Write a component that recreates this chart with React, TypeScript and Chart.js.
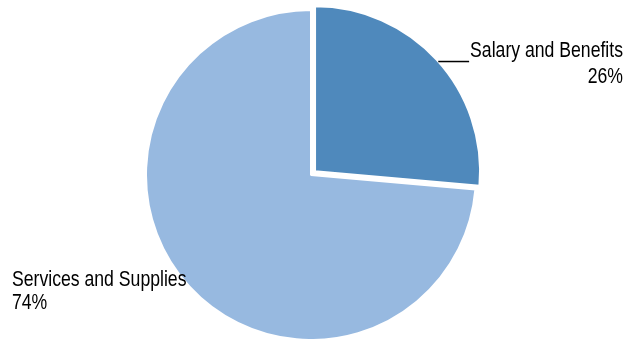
import React, { useEffect, useRef } from "react";
import { Chart, registerables } from "chart.js";

Chart.register(...registerables);

const categories = ["Salary and Benefits", "Services and Supplies"];
const values = [26.4, 73.6];
const colors = ["#4F89BC", "#97B9E0"];

const FONT = '21.5px "Liberation Sans", Arial, sans-serif';
const SQUEEZE = 0.82;

const labelPlugin = {
  id: "sliceLabels",
  afterDraw(chart: any) {
    const ctx = chart.ctx as CanvasRenderingContext2D;
    const meta = chart.getDatasetMeta(0);
    const total = values.reduce((a, b) => a + b, 0);
    const pct = values.map((v) => Math.round((v / total) * 100) + "%");
    const a0 = meta.data[0] as any;
    const a1 = meta.data[1] as any;
    const r = a0.outerRadius;
    const off0 = (a0.options.offset || 0) / 4;
    const mid0 = (a0.startAngle + a0.endAngle) / 2;
    const c0x = a0.x + Math.cos(mid0) * off0;
    const c0y = a0.y + Math.sin(mid0) * off0;

    ctx.save();
    ctx.font = FONT;
    ctx.fillStyle = "#000";
    ctx.textBaseline = "alphabetic";

    // Right label (Salary and Benefits)
    const rightX = chart.width - 11;
    const base1 = a0.y - r * 0.715;
    const w1 = ctx.measureText(categories[0]).width * SQUEEZE;
    ctx.save();
    ctx.scale(SQUEEZE, 1);
    ctx.textAlign = "right";
    ctx.fillText(categories[0], rightX / SQUEEZE, base1);
    ctx.fillText(pct[0], rightX / SQUEEZE, base1 + 25.5);
    ctx.restore();
    // leader line
    const ly = base1 + 4.5;
    const dy = ly - c0y;
    const ex = c0x + Math.sqrt(Math.max(r * r - dy * dy, 0));
    ctx.strokeStyle = "#000";
    ctx.lineWidth = 1.5;
    ctx.beginPath();
    ctx.moveTo(ex, ly);
    ctx.lineTo(rightX - w1 - 1, ly);
    ctx.stroke();

    // Left label (Services and Supplies)
    const leftX = chart.chartArea.left + 12;
    const base2 = a1.y + r * 0.67;
    const w2 = ctx.measureText(categories[1]).width * SQUEEZE;
    ctx.save();
    ctx.scale(SQUEEZE, 1);
    ctx.textAlign = "left";
    ctx.fillText(categories[1], leftX / SQUEEZE, base2);
    ctx.fillText(pct[1], leftX / SQUEEZE, base2 + 23);
    ctx.restore();
    const ly2 = base2 - 2;
    const dy2 = ly2 - a1.y;
    const ex2 = a1.x - Math.sqrt(Math.max(r * r - dy2 * dy2, 0));
    if (ex2 > leftX + w2 + 1) {
      ctx.lineWidth = 1;
      ctx.beginPath();
      ctx.moveTo(leftX + w2 + 1, ly2);
      ctx.lineTo(ex2, ly2);
      ctx.stroke();
    }
    ctx.restore();
  },
};

export default function App() {
  const ref = useRef<HTMLCanvasElement>(null);
  useEffect(() => {
    document.body.style.margin = "0";
    const chart = new Chart(ref.current as HTMLCanvasElement, {
      type: "pie",
      data: {
        labels: categories,
        datasets: [
          {
            data: values,
            backgroundColor: colors,
            borderColor: "#ffffff",
            borderWidth: 2,
            offset: [22, 0],
          },
        ],
      },
      options: {
        animation: false,
        responsive: true,
        maintainAspectRatio: false,
        radius: 165,
        layout: { padding: { left: 0, right: 12, top: 11, bottom: 0 } },
        plugins: {
          legend: { display: false },
          tooltip: { enabled: false },
          title: { display: false },
        },
      } as any,
      plugins: [labelPlugin],
    });
    return () => chart.destroy();
  }, []);
  return (
    <div style={{ position: "fixed", left: 0, top: 0, width: 634, height: 339 }}>
      <canvas ref={ref} />
    </div>
  );
}
